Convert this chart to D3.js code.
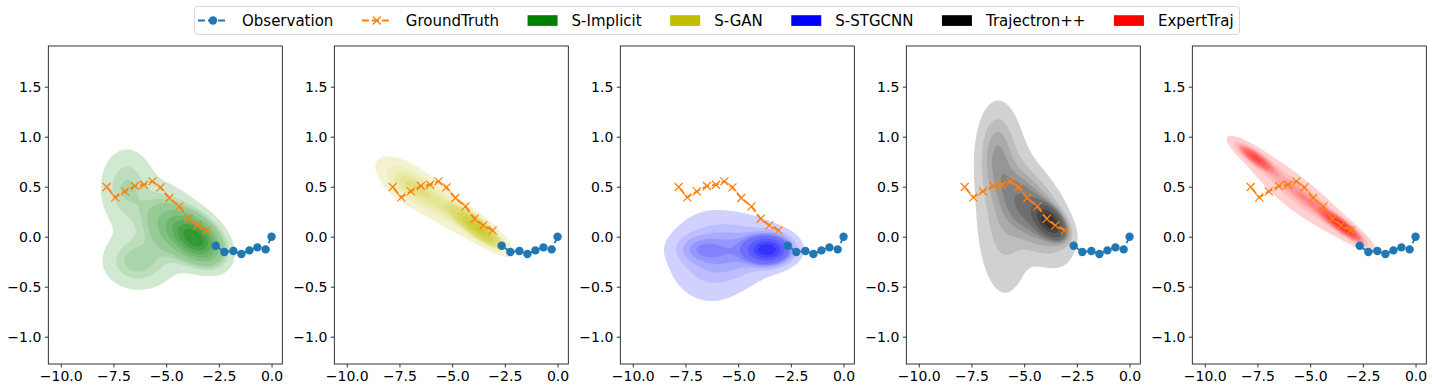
<!DOCTYPE html>
<html lang="en">
<head>
<meta charset="UTF-8">
<title>Trajectory density comparison</title>
<script src="https://d3js.org/d3.v7.min.js"></script>
<style>
  body { margin: 0; background: #fff; }
  svg { font-family: "DejaVu Sans", sans-serif; display: block; }
</style>
</head>
<body>
<svg width="1432" height="392"></svg>
<script>
// ---- data ----
const models = ["S-Implicit", "S-GAN", "S-STGCNN", "Trajectron++", "ExpertTraj"];
const modelColors = ["#008000", "#bfbf00", "#0000ff", "#000000", "#ff0000"];

const obsX = [0, -0.28, -0.67, -1.05, -1.43, -1.81, -2.24, -2.65];
const obsY = [0, -0.127, -0.107, -0.137, -0.173, -0.143, -0.153, -0.09];
const gtX = [-3.08, -3.52, -3.93, -4.37, -4.85, -5.27, -5.65, -6.05, -6.48, -6.96, -7.41, -7.82];
const gtY = [0.063, 0.113, 0.18, 0.303, 0.387, 0.493, 0.553, 0.52, 0.507, 0.453, 0.393, 0.497];

const xTicks = [-10, -7.5, -5, -2.5, 0];
const yTicks = [-1, -0.5, 0, 0.5, 1, 1.5];

// density blobs per model: [weight, meanX, meanY, sdX, sdY, rho]
const implicitBlobs = [
  [0.50, -3.6, -0.02, 0.70, 0.14, -0.4],
  [0.20, -4.8, 0.10, 0.80, 0.18, -0.3],
  [0.10, -6.9, 0.50, 0.70, 0.22, 0.0],
  [0.10, -6.4, -0.25, 0.90, 0.15, 0.0],
  [0.10, -5.6, 0.10, 1.20, 0.35, 0.0]
];
const ganBlobs = [
  [0.50, -3.8, 0.09, 0.65, 0.11, -0.85],
  [0.30, -5.6, 0.33, 1.20, 0.20, -0.85],
  [0.20, -7.1, 0.52, 0.80, 0.14, -0.6]
];
const stgcnnBlobs = [
  [0.45, -3.6, -0.13, 0.60, 0.08, 0.0],
  [0.25, -5.0, -0.13, 1.20, 0.17, 0.1],
  [0.24, -6.3, -0.20, 1.10, 0.25, 0.0],
  [0.06, -6.9, -0.12, 0.70, 0.09, 0.0]
];
const trajectronBlobs = [
  [0.30, -3.8, 0.15, 0.40, 0.09, -0.5],
  [0.35, -4.6, 0.25, 0.90, 0.25, -0.5],
  [0.25, -5.9, 0.28, 0.75, 0.47, 0.0],
  [0.10, -6.3, 0.85, 0.50, 0.25, 0.0]
];
const expertBlobs = [
  [0.32, -3.5, 0.11, 0.55, 0.09, -0.9],
  [0.30, -5.2, 0.38, 1.30, 0.22, -0.95],
  [0.20, -7.6, 0.79, 0.50, 0.08, -0.85],
  [0.18, -5.8, 0.45, 1.40, 0.25, -0.85]
];
const modelBlobs = [implicitBlobs, ganBlobs, stgcnnBlobs, trajectronBlobs, expertBlobs];

// ---- layout ----
const svg = d3.select("svg");
const panelLeft = [48.3, 334.3, 620.3, 906.3, 1192.3];
const panelW = 234, panelTop = 46, panelH = 318;
const xDomain = [-10.59, 0.51], yDomain = [-1.273, 1.907];
const fmt = d => (d < 0 ? "\u2212" : "") + Math.abs(d).toFixed(1);

function gaussSum(blobs, px, py) {
  let s = 0;
  for (const [w, mx, my, sx, sy, r] of blobs) {
    const dx = (px - mx) / sx, dy = (py - my) / sy;
    const om = 1 - r * r;
    const z = dx * dx - 2 * r * dx * dy + dy * dy;
    s += w / (2 * Math.PI * sx * sy * Math.sqrt(om)) * Math.exp(-z / (2 * om));
  }
  return s;
}

// seaborn-like iso-proportion levels
function isoLevels(values, n, thresh) {
  const sorted = Array.from(values).sort((a, b) => b - a);
  const total = d3.sum(sorted);
  const cum = [];
  let c = 0;
  for (const v of sorted) { c += v; cum.push(c / total); }
  return d3.range(n).map(k => {
    const q = thresh + k * (1 - thresh) / (n - 1);
    const idx = Math.min(d3.bisectLeft(cum, 1 - q), sorted.length - 1);
    return sorted[idx];
  });
}

models.forEach((name, m) => {
  const x = d3.scaleLinear().domain(xDomain).range([0, panelW]);
  const y = d3.scaleLinear().domain(yDomain).range([panelH, 0]);
  const g = svg.append("g").attr("transform", `translate(${panelLeft[m]},${panelTop})`);

  g.append("clipPath").attr("id", "clip" + m)
    .append("rect").attr("width", panelW).attr("height", panelH);

  // density grid
  const nx = 180, ny = 240;
  const gx = d3.scaleLinear().domain([0, nx - 1]).range(xDomain);
  const gy = d3.scaleLinear().domain([0, ny - 1]).range([yDomain[1], yDomain[0]]);
  const values = new Float64Array(nx * ny);
  for (let j = 0; j < ny; j++) {
    const py = gy(j);
    for (let i = 0; i < nx; i++) values[j * nx + i] = gaussSum(modelBlobs[m], gx(i), py);
  }
  const levels = isoLevels(values, 10, 0.05).slice(0, 9);
  const contours = d3.contours().size([nx, ny]).thresholds(levels)(values);
  const proj = d3.geoTransform({
    point(px, py) { this.stream.point(x(gx(px - 0.5)), y(gy(py - 0.5))); }
  });
  const path = d3.geoPath(proj);
  const col = d3.interpolateRgb("#ffffff", modelColors[m]);

  g.append("g").attr("clip-path", `url(#clip${m})`)
    .selectAll("path").data(contours).join("path")
    .attr("d", path)
    .attr("fill", (d, k) => col(0.18 + k * (0.8 - 0.18) / 8))
    .attr("stroke", "none");

  // trajectories
  const line = d3.line().x(d => x(d[0])).y(d => y(d[1]));
  const obs = obsX.map((v, i) => [v, obsY[i]]);
  const gt = gtX.map((v, i) => [v, gtY[i]]);

  g.append("path").attr("d", line(obs)).attr("fill", "none")
    .attr("stroke", "#1f77b4").attr("stroke-width", 1.8).attr("stroke-dasharray", "7,3");
  g.selectAll(".obs").data(obs).join("circle").attr("class", "obs")
    .attr("cx", d => x(d[0])).attr("cy", d => y(d[1])).attr("r", 4.2)
    .attr("fill", "#1f77b4");

  g.append("path").attr("d", line(gt)).attr("fill", "none")
    .attr("stroke", "#ff7f0e").attr("stroke-width", 1.8).attr("stroke-dasharray", "7,3");
  g.selectAll(".gt").data(gt).join("path").attr("class", "gt")
    .attr("transform", d => `translate(${x(d[0])},${y(d[1])})`)
    .attr("d", "M-4,-4L4,4M-4,4L4,-4")
    .attr("stroke", "#ff7f0e").attr("stroke-width", 1.3).attr("fill", "none");

  // axes
  const ax = g.append("g").attr("transform", `translate(0,${panelH})`)
    .call(d3.axisBottom(x).tickValues(xTicks).tickFormat(fmt).tickSize(3.5).tickPadding(3.5));
  const ay = g.append("g")
    .call(d3.axisLeft(y).tickValues(yTicks).tickFormat(fmt).tickSize(3.5).tickPadding(3.5));
  [ax, ay].forEach(a => {
    a.select(".domain").remove();
    a.selectAll("line").attr("stroke", "#000").attr("stroke-width", 0.8);
    a.selectAll("text").attr("font-size", 14).attr("fill", "#000")
      .attr("font-family", "DejaVu Sans, sans-serif");
  });
  g.append("rect").attr("width", panelW).attr("height", panelH)
    .attr("fill", "none").attr("stroke", "#000").attr("stroke-width", 0.8);
});

// ---- legend ----
const legendItems = [
  { label: "Observation", type: "line", color: "#1f77b4", marker: "o" },
  { label: "GroundTruth", type: "line", color: "#ff7f0e", marker: "x" }
].concat(models.map((mName, i) => ({ label: mName, type: "patch", color: modelColors[i] })));

const legend = svg.append("g");
legend.append("rect").attr("x", 194.5).attr("y", 6.5).attr("width", 1045).attr("height", 28)
  .attr("rx", 3).attr("fill", "#fff").attr("fill-opacity", 0.8)
  .attr("stroke", "#d6d6d6").attr("stroke-width", 1);

let lx = 198;
const ly = 20.5;
legendItems.forEach(it => {
  const e = legend.append("g");
  if (it.type === "line") {
    e.append("line").attr("x1", lx).attr("x2", lx + 30).attr("y1", ly).attr("y2", ly)
      .attr("stroke", it.color).attr("stroke-width", 1.8).attr("stroke-dasharray", "7,3");
    if (it.marker === "o") {
      e.append("circle").attr("cx", lx + 15).attr("cy", ly).attr("r", 4.2).attr("fill", it.color);
    } else {
      e.append("path").attr("transform", `translate(${lx + 15},${ly})`)
        .attr("d", "M-4,-4L4,4M-4,4L4,-4")
        .attr("stroke", it.color).attr("stroke-width", 1.3);
    }
  } else {
    e.append("rect").attr("x", lx).attr("y", ly - 5.3).attr("width", 30).attr("height", 10.7)
      .attr("fill", it.color);
  }
  const t = e.append("text").attr("x", lx + 44).attr("y", ly + 5.4)
    .attr("font-size", 15).attr("fill", "#000").text(it.label);
  lx += 44 + t.node().getComputedTextLength() + 28.5;
});
</script>
</body>
</html>
